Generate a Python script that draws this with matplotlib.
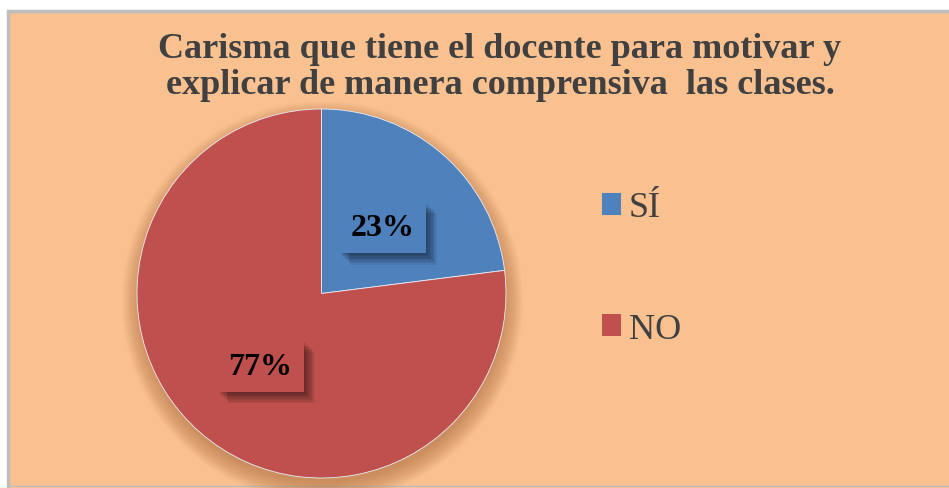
import matplotlib
matplotlib.use("Agg")
import matplotlib.pyplot as plt
from matplotlib.patches import Rectangle, Circle
import matplotlib.patheffects as pe

title = "Carisma que tiene el docente para motivar y\nexplicar de manera comprensiva  las clases."
categories = ["SÍ", "NO"]
values = [23, 77]
colors = ["#4F81BD", "#C0504D"]

W, H = 949, 489
fig = plt.figure(figsize=(W / 100, H / 100), dpi=100)
fig.patch.set_facecolor("white")
ax = fig.add_axes([0, 0, 1, 1])
ax.set_axis_off()

# chart area with border
ax.add_patch(Rectangle((8.5, 1.5), W + 10, H - 13, facecolor="#F9C090",
                       edgecolor="#BDBDBD", linewidth=2.5, zorder=0))
ax.add_patch(Rectangle((10, 0), W, 1.5, facecolor="#F9C090",
                       edgecolor="none", zorder=0))

cx, cy, r = 321.5, H - 294.5, 184.5
# soft shadow
n = 20
for i in range(n):
    ax.add_patch(Circle((cx + 1, cy - 8), r + 16 - i, facecolor="#A86838",
                        edgecolor="none", alpha=0.03, zorder=1))

wedges, texts, autotexts = ax.pie(
    values, colors=colors, startangle=90, counterclock=False,
    center=(cx, cy), radius=r, frame=True,
    autopct=lambda p: f"{p:.0f}%", pctdistance=0.5,
    wedgeprops=dict(edgecolor="#E8EEF7", linewidth=0.6),
    textprops=dict(fontsize=23, fontweight="bold", family="Liberation Serif",
                   color="black"))
for w in wedges:
    w.set_zorder(2)
shadow_fx = [pe.withSimplePatchShadow(offset=(k, -k), shadow_rgbFace="black", alpha=0.07)
             for k in range(1, 9)]
for t, c in zip(autotexts, colors):
    t.set_zorder(4)
    t.set_va("center_baseline")
    t.set_bbox(dict(boxstyle="square,pad=0.35", facecolor=c, edgecolor="none"))
    t.get_bbox_patch().set_path_effects(shadow_fx + [pe.Normal()])

ax.set_xlim(0, W)
ax.set_ylim(0, H)
ax.set_aspect("auto")

ax.text(500, H - 68, title, ha="center", va="center", fontsize=26,
        fontweight="bold", family="Liberation Serif", color="#404040",
        linespacing=1.12, zorder=5)

leg = ax.legend(wedges, categories, loc="upper left",
                bbox_to_anchor=(569 / W, 1 - 160 / H), frameon=False,
                prop=dict(family="Liberation Serif", size=26),
                handlelength=0.55, handleheight=0.55, handletextpad=0.2,
                labelspacing=2.45, labelcolor="#404040")
for h in leg.legend_handles:
    h.set_edgecolor("none")

fig.savefig("out.png", dpi=100, facecolor=fig.get_facecolor())
